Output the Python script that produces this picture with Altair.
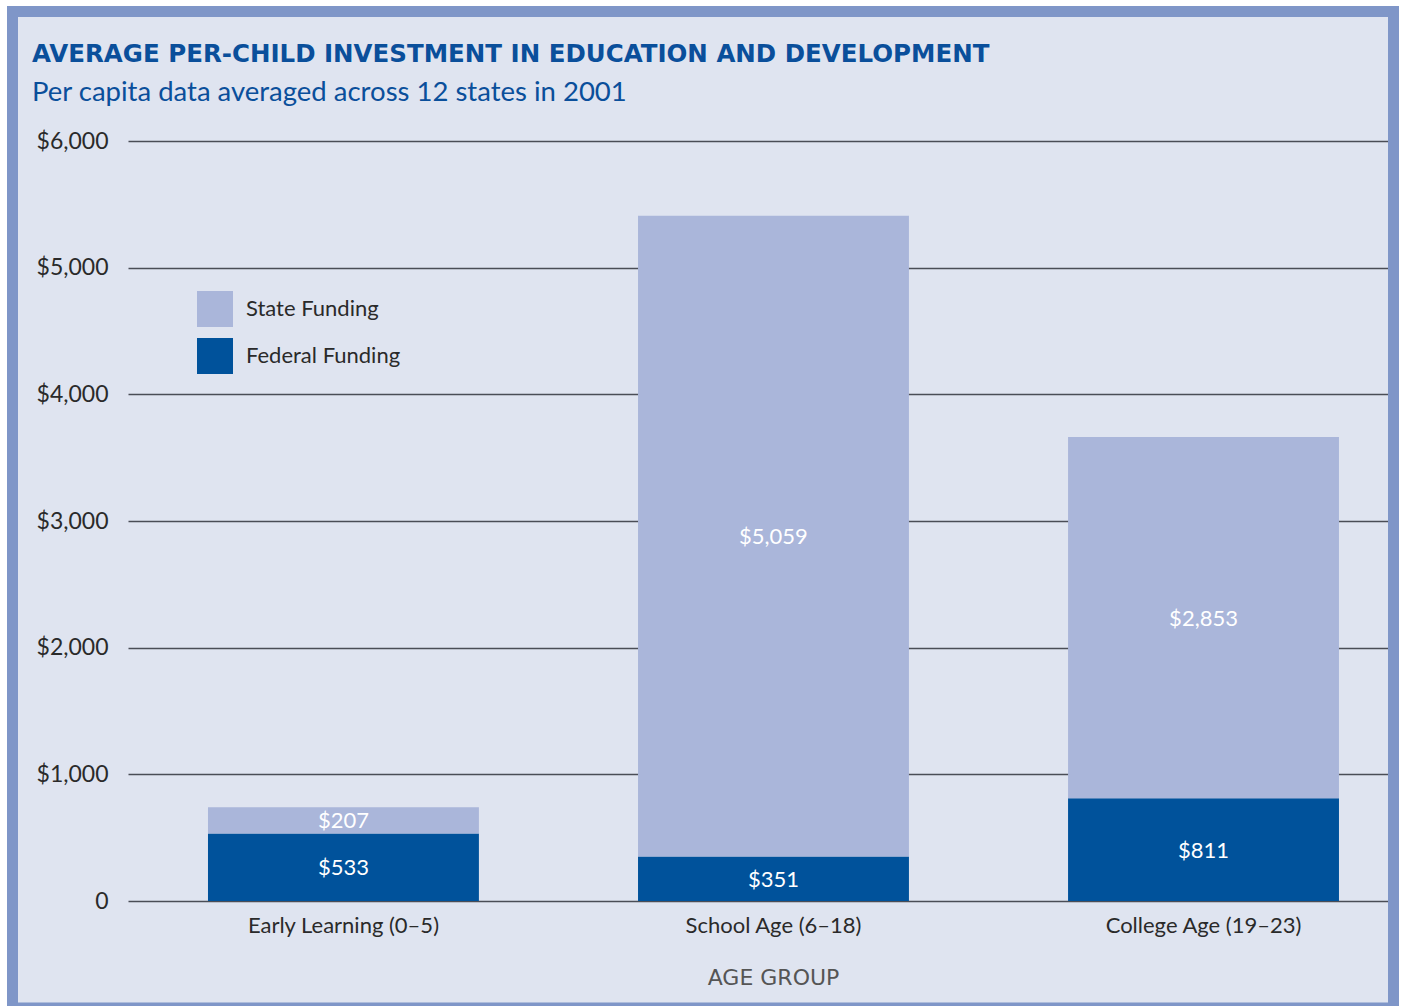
import altair as alt
import pandas as pd

title_text = "AVERAGE PER-CHILD INVESTMENT IN EDUCATION AND DEVELOPMENT"
subtitle_text = "Per capita data averaged across 12 states in 2001"
groups = ["Early Learning (0–5)", "School Age (6–18)", "College Age (19–23)"]
federal = [533, 351, 811]
state = [207, 5059, 2853]
series = ["State Funding", "Federal Funding"]
colors = ["#aab6da", "#00529b"]
y_ticks = [0, 1000, 2000, 3000, 4000, 5000, 6000]

rows = []
for g, f, s in zip(groups, federal, state):
    rows.append({"group": g, "funding": "Federal Funding", "value": f, "ord": 0})
    rows.append({"group": g, "funding": "State Funding", "value": s, "ord": 1})
df = pd.DataFrame(rows)

FONT = "Lato"
BLUE = "#0a4f9b"

base = alt.Chart(df).transform_stack(
    stack="value", groupby=["group"], as_=["y0", "y1"],
    sort=[alt.SortField("ord", order="ascending")]
).transform_calculate(
    mid="(datum.y0 + datum.y1) / 2",
    label="'$' + format(datum.value, ',')"
)

x_enc = alt.X(
    "group:N", sort=groups,
    scale=alt.Scale(paddingInner=0.37, paddingOuter=0.15, align=0.62),
    axis=alt.Axis(title="AGE GROUP", labelAngle=0, domain=False, ticks=False, labelLimit=0,
                  labelPadding=14, labelFontSize=22, labelColor="#2a2a2a", labelFont=FONT,
                  titleFont="DejaVu Sans", titleFontSize=22, titleFontWeight="normal",
                  titleColor="#555555", titlePadding=31, titleX=645),
)

bars = base.mark_bar().encode(
    x=x_enc,
    y=alt.Y("y0:Q", scale=alt.Scale(domain=[0, 6000]),
            axis=alt.Axis(title=None, values=y_ticks, domain=False, ticks=False,
                          labelPadding=20, labelFontSize=23, labelColor="#2a2a2a", labelFont=FONT,
                          labelExpr="datum.value == 0 ? '0' : '$' + format(datum.value, ',')",
                          grid=True, gridColor="#4a4d56", gridWidth=1.5)),
    y2="y1:Q",
    color=alt.Color("funding:N", scale=alt.Scale(domain=series, range=colors),
                    legend=alt.Legend(title=None, orient="none", legendX=69, legendY=150,
                                      symbolType="square", symbolSize=1296, symbolStrokeWidth=0,
                                      symbolOpacity=1,
                                      labelFontSize=22, labelFont=FONT, labelColor="#2a2a2a",
                                      labelOffset=13, rowPadding=11, padding=0)),
    order=alt.Order("ord:Q"),
)

labels = base.mark_text(color="white", fontSize=22, font=FONT, baseline="middle", dy=1).encode(
    x=alt.X("group:N", sort=groups),
    y=alt.Y("mid:Q"),
    text="label:N",
)

title_mark = alt.Chart(alt.Data(values=[{"t": title_text}])).mark_text(
    align="left", baseline="alphabetic", font="DejaVu Sans", fontSize=24.5, fontWeight="bold",
    color=BLUE
).encode(text="t:N", x=alt.value(-96), y=alt.value(-79))

subtitle_mark = alt.Chart(alt.Data(values=[{"t": subtitle_text}])).mark_text(
    align="left", baseline="alphabetic", font=FONT, fontSize=27.5, color=BLUE
).encode(text="t:N", x=alt.value(-96), y=alt.value(-40))

frame_data = alt.Data(values=[{"k": 1}])
white_frame = alt.Chart(frame_data).mark_rect(fill=None, stroke="white", strokeWidth=14).encode(
    x=alt.value(-128), x2=alt.value(1275), y=alt.value(-141), y2=alt.value(879)
)
blue_frame = alt.Chart(frame_data).mark_rect(fill=None, stroke="#7f96c8", strokeWidth=11).encode(
    x=alt.value(-115.5), x2=alt.value(1265.5), y=alt.value(-129.5), y2=alt.value(867)
)

chart = alt.layer(bars, labels, title_mark, subtitle_mark, white_frame, blue_frame).properties(
    width=1260, height=760,
    autosize=alt.AutoSizeParams(type="none"),
    padding={"left": 128, "top": 141, "right": 15, "bottom": 105},
    background="#dfe4f0",
).configure_view(stroke=None)

chart.save("out.html", embed_options={"renderer": "svg", "actions": False})
